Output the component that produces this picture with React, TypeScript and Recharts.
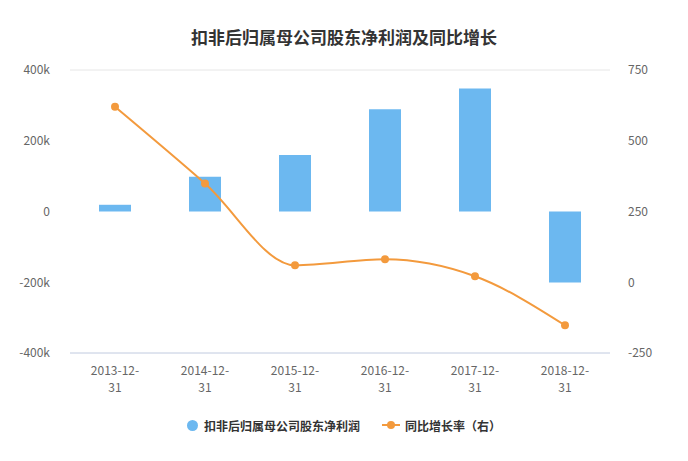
import {
    Bar,
    CartesianGrid,
    ComposedChart,
    Legend,
    Line,
    XAxis,
    YAxis,
} from 'recharts'

const dates = ['2013-12-31', '2014-12-31', '2015-12-31', '2016-12-31', '2017-12-31', '2018-12-31']
const netProfit = [19000, 98000, 160000, 289000, 348000, -201000]
const yoyGrowth = [620, 349, 60, 81, 21, -152]
const leftTicks = [-400000, -200000, 0, 200000, 400000]
const rightTicks = [-250, 0, 250, 500, 750]

const data = dates.map((d, i) => ({ date: d, profit: netProfit[i], growth: yoyGrowth[i] }))

const FONT = "'Noto Sans CJK SC', 'DejaVu Sans', sans-serif"
const BLUE = '#6cb8f0'
const ORANGE = '#f39a3d'

const DateTick = (props: any) => {
    const { x, y, payload } = props
    const v: string = payload.value
    const first = v.slice(0, 8)
    const second = v.slice(8)
    return (
        <g>
            <text x={x} y={y + 14} textAnchor="middle" fill="#666" fontSize={12} fontFamily={FONT}>
                {first}
            </text>
            <text x={x} y={y + 31} textAnchor="middle" fill="#666" fontSize={12} fontFamily={FONT}>
                {second}
            </text>
        </g>
    )
}

const LegendContent = () => (
    <div style={{ display: 'flex', justifyContent: 'center', alignItems: 'center', fontFamily: FONT, fontSize: 12, fontWeight: 'bold', color: '#333', height: 20 }}>
        <span style={{ display: 'inline-block', width: 11, height: 11, borderRadius: '50%', background: BLUE, marginRight: 6 }} />
        <span style={{ marginRight: 22 }}>扣非后归属母公司股东净利润</span>
        <svg width={18} height={10} style={{ marginRight: 5 }}>
            <line x1={0} y1={5} x2={18} y2={5} stroke={ORANGE} strokeWidth={2} />
            <circle cx={9} cy={5} r={4} fill={ORANGE} />
        </svg>
        <span>同比增长率（右）</span>
    </div>
)

export default function App() {
    return (
        <div style={{ position: 'absolute', left: 0, top: 0, width: 688, height: 461, background: '#fff' }}>
            <div style={{ position: 'absolute', left: 0, top: 24, width: 688, textAlign: 'center', fontFamily: FONT, fontSize: 17, fontWeight: 'bold', color: '#333' }}>
                扣非后归属母公司股东净利润及同比增长
            </div>
            <ComposedChart width={688} height={461} data={data} margin={{ top: 70, right: 0, bottom: 48, left: 0 }}>
                <CartesianGrid vertical={false} stroke="#e6e6e6" />
                <XAxis
                    dataKey="date"
                    tick={<DateTick />}
                    tickLine={false}
                    axisLine={{ stroke: '#ccd6eb' }}
                    height={40}
                    interval={0}
                />
                <YAxis
                    yAxisId="left"
                    width={70}
                    domain={[-400000, 400000]}
                    ticks={leftTicks}
                    tickFormatter={(v: number) => (v === 0 ? '0' : `${v / 1000}k`)}
                    axisLine={false}
                    tickLine={false}
                    tick={{ fill: '#666', fontSize: 12, fontFamily: FONT }}
                    tickMargin={14}
                />
                <YAxis
                    yAxisId="right"
                    orientation="right"
                    width={78}
                    domain={[-250, 750]}
                    ticks={rightTicks}
                    axisLine={false}
                    tickLine={false}
                    tick={{ fill: '#666', fontSize: 12, fontFamily: FONT, textAnchor: 'start' }}
                    tickMargin={12}
                />
                <Bar yAxisId="left" dataKey="profit" name="扣非后归属母公司股东净利润" fill={BLUE} barSize={32} isAnimationActive={false} />
                <Line
                    yAxisId="right"
                    type="monotone"
                    dataKey="growth"
                    name="同比增长率（右）"
                    stroke={ORANGE}
                    strokeWidth={2}
                    dot={{ r: 4, fill: ORANGE, stroke: ORANGE, strokeWidth: 0 }}
                    isAnimationActive={false}
                />
                <Legend verticalAlign="bottom" height={20} content={<LegendContent />} wrapperStyle={{ bottom: 26 }} />
            </ComposedChart>
        </div>
    )
}
